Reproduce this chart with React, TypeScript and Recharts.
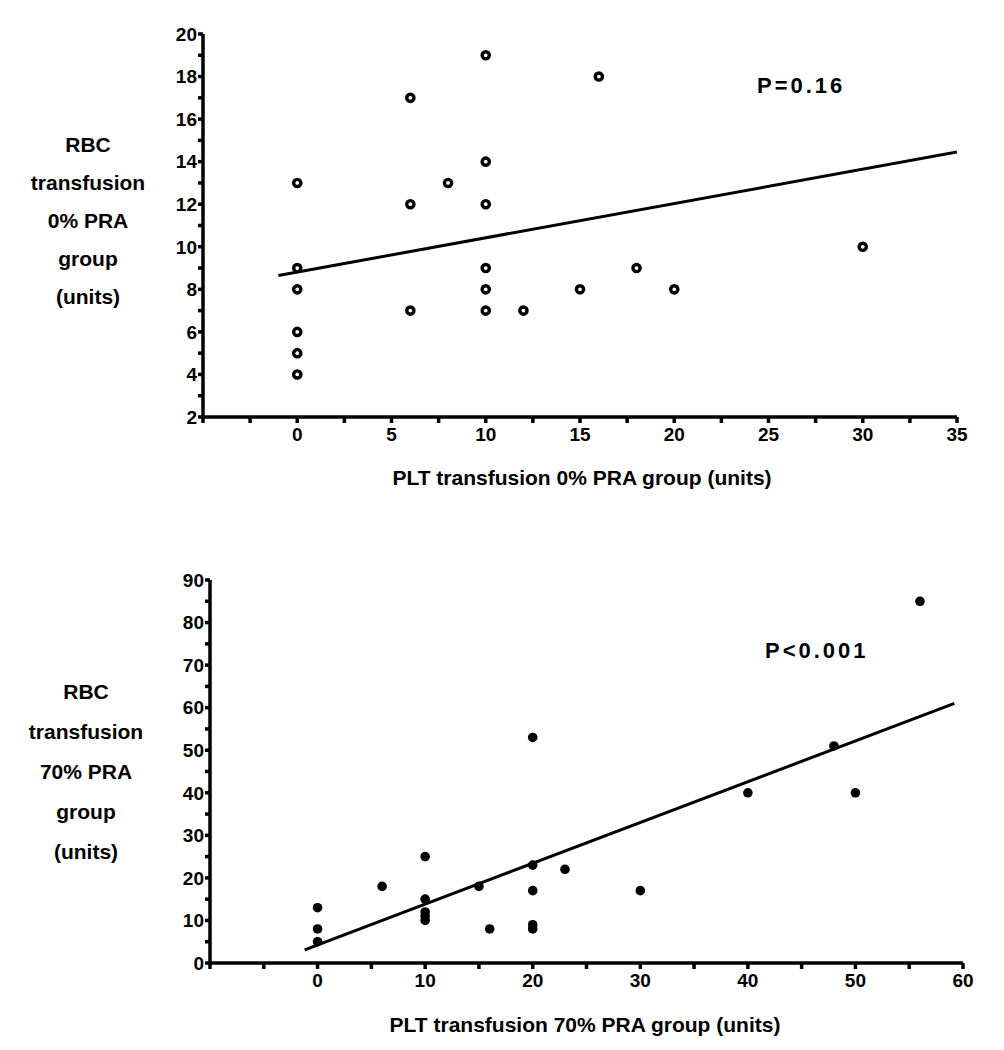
import React from 'react';
import { ScatterChart, Scatter, XAxis, YAxis } from 'recharts';

// Top panel: 0% PRA group
const TOP_PLT = [0, 0, 0, 0, 0, 0, 6, 6, 6, 8, 10, 10, 10, 10, 10, 10, 12, 15, 16, 18, 20, 30];
const TOP_RBC = [13, 9, 8, 6, 5, 4, 17, 12, 7, 13, 19, 14, 12, 9, 8, 7, 7, 8, 18, 9, 8, 10];
const TOP_FIT_X = [-1, 35];
const TOP_FIT_Y = [8.65, 14.45];
const TOP_X_TICKS = [-5, -2.5, 0, 2.5, 5, 7.5, 10, 12.5, 15, 17.5, 20, 22.5, 25, 27.5, 30, 32.5, 35];
const TOP_X_LABELS = [0, 5, 10, 15, 20, 25, 30, 35];
const TOP_Y_TICKS = [2, 3, 4, 5, 6, 7, 8, 9, 10, 11, 12, 13, 14, 15, 16, 17, 18, 19, 20];
const TOP_Y_LABELS = [2, 4, 6, 8, 10, 12, 14, 16, 18, 20];

// Bottom panel: 70% PRA group
const BOT_PLT = [0, 0, 0, 6, 10, 10, 10, 10, 10, 15, 16, 20, 20, 20, 20, 20, 23, 30, 40, 48, 50, 56];
const BOT_RBC = [13, 8, 5, 18, 25, 15, 12, 11, 10, 18, 8, 53, 23, 17, 9, 8, 22, 17, 40, 51, 40, 85];
const BOT_FIT_X = [-1.2, 59.2];
const BOT_FIT_Y = [3.1, 61];
const BOT_X_TICKS = [-10, -5, 0, 5, 10, 15, 20, 25, 30, 35, 40, 45, 50, 55, 60];
const BOT_X_LABELS = [0, 10, 20, 30, 40, 50, 60];
const BOT_Y_TICKS = [0, 5, 10, 15, 20, 25, 30, 35, 40, 45, 50, 55, 60, 65, 70, 75, 80, 85, 90];
const BOT_Y_LABELS = [0, 10, 20, 30, 40, 50, 60, 70, 80, 90];

const FONT = '"Liberation Sans", Arial, Helvetica, sans-serif';
const tickStyle = { fill: '#000', fontSize: 19, fontWeight: 'bold', fontFamily: FONT };
const axisStroke = { stroke: '#000', strokeWidth: 3.5 };

const zip = (xs: number[], ys: number[]) => xs.map((x, i) => ({ x, y: ys[i] }));
const only = (labels: number[]) => (v: number) => (labels.includes(v) ? String(v) : '');

const OpenDot = (p: any) => <circle cx={p.cx} cy={p.cy} r={3.6} fill="#fff" stroke="#000" strokeWidth={3.4} />;
const FilledDot = (p: any) => <circle cx={p.cx} cy={p.cy} r={4.8} fill="#000" />;
const NoDot = () => <g />;

const textBase: React.CSSProperties = {
  position: 'absolute',
  fontFamily: FONT,
  fontWeight: 'bold',
  fontSize: 21,
  color: '#000',
  whiteSpace: 'nowrap',
};

export default function App() {
  return (
    <div style={{ position: 'absolute', left: 0, top: 0, width: 1004, height: 1050, background: '#fff' }}>
      {/* top chart */}
      <div style={{ position: 'absolute', left: 0, top: 0 }}>
        <ScatterChart width={1004} height={480} margin={{ top: 34, right: 47, bottom: 23, left: 153 }}>
          <XAxis
            type="number"
            dataKey="x"
            domain={[-5, 35]}
            ticks={TOP_X_TICKS}
            tickFormatter={only(TOP_X_LABELS)}
            interval={0}
            height={40}
            tick={tickStyle}
            tickSize={6}
            tickMargin={5}
            axisLine={axisStroke}
            tickLine={axisStroke}
            allowDataOverflow
          />
          <YAxis
            type="number"
            dataKey="y"
            domain={[2, 20]}
            ticks={TOP_Y_TICKS}
            tickFormatter={only(TOP_Y_LABELS)}
            interval={0}
            width={50}
            tick={tickStyle}
            tickSize={5}
            tickMargin={1}
            axisLine={axisStroke}
            tickLine={axisStroke}
            allowDataOverflow
          />
          <Scatter data={zip(TOP_PLT, TOP_RBC)} shape={OpenDot} isAnimationActive={false} />
          <Scatter
            data={zip(TOP_FIT_X, TOP_FIT_Y)}
            shape={NoDot}
            line={{ stroke: '#000', strokeWidth: 3 }}
            isAnimationActive={false}
          />
        </ScatterChart>
      </div>

      {/* bottom chart */}
      <div style={{ position: 'absolute', left: 0, top: 520 }}>
        <ScatterChart width={1004} height={500} margin={{ top: 60, right: 41, bottom: 17, left: 160 }}>
          <XAxis
            type="number"
            dataKey="x"
            domain={[-10, 60]}
            ticks={BOT_X_TICKS}
            tickFormatter={only(BOT_X_LABELS)}
            interval={0}
            height={40}
            tick={tickStyle}
            tickSize={6}
            tickMargin={5}
            axisLine={axisStroke}
            tickLine={axisStroke}
            allowDataOverflow
          />
          <YAxis
            type="number"
            dataKey="y"
            domain={[0, 90]}
            ticks={BOT_Y_TICKS}
            tickFormatter={only(BOT_Y_LABELS)}
            interval={0}
            width={50}
            tick={tickStyle}
            tickSize={5}
            tickMargin={1}
            axisLine={axisStroke}
            tickLine={axisStroke}
            allowDataOverflow
          />
          <Scatter data={zip(BOT_PLT, BOT_RBC)} shape={FilledDot} isAnimationActive={false} />
          <Scatter
            data={zip(BOT_FIT_X, BOT_FIT_Y)}
            shape={NoDot}
            line={{ stroke: '#000', strokeWidth: 3 }}
            isAnimationActive={false}
          />
        </ScatterChart>
      </div>

      {/* axis titles and annotations */}
      <div style={{ ...textBase, left: 18, top: 126, width: 140, textAlign: 'center', lineHeight: '38px' }}>
        RBC<br />transfusion<br />0% PRA<br />group<br />(units)
      </div>
      <div style={{ ...textBase, left: 282, top: 465, width: 600, textAlign: 'center', lineHeight: '26px' }}>
        PLT transfusion 0% PRA group (units)
      </div>
      <div style={{ ...textBase, left: 757, top: 73, fontSize: 22, letterSpacing: 3, lineHeight: '26px' }}>
        P=0.16
      </div>

      <div style={{ ...textBase, left: 16, top: 672, width: 140, textAlign: 'center', lineHeight: '40px' }}>
        RBC<br />transfusion<br />70% PRA<br />group<br />(units)
      </div>
      <div style={{ ...textBase, left: 285, top: 1012, width: 600, textAlign: 'center', lineHeight: '26px' }}>
        PLT transfusion 70% PRA group (units)
      </div>
      <div style={{ ...textBase, left: 765, top: 638, fontSize: 22, letterSpacing: 3, lineHeight: '26px' }}>
        P&lt;0.001
      </div>
    </div>
  );
}
